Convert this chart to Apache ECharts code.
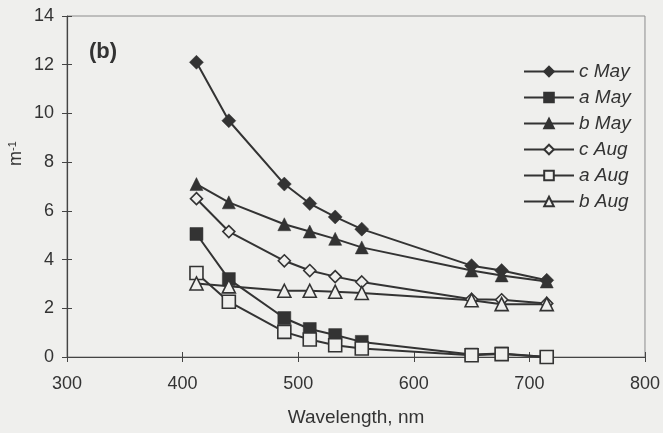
<!DOCTYPE html>
<html>
<head>
<meta charset="utf-8">
<script src="https://cdn.jsdelivr.net/npm/echarts@6/dist/echarts.min.js"></script>
<style>
  html, body { margin: 0; padding: 0; background: #efefed; }
  #chart { width: 663px; height: 433px; }
</style>
</head>
<body>
<div id="chart"></div>
<script>
// AC-9 wavelength channels (nm)
const wavelengths = [412, 440, 488, 510, 532, 555, 650, 676, 715];

// absorption-type coefficients, m^-1
const cMay = [12.1, 9.7, 7.1, 6.3, 5.75, 5.25, 3.75, 3.55, 3.15];
const aMay = [5.05, 3.2, 1.6, 1.15, 0.9, 0.62, 0.1, 0.14, 0.0];
const bMay = [7.1, 6.35, 5.45, 5.15, 4.85, 4.5, 3.55, 3.35, 3.1];
const cAug = [6.5, 5.15, 3.95, 3.55, 3.3, 3.08, 2.37, 2.35, 2.2];
const aAug = [3.45, 2.27, 1.03, 0.72, 0.48, 0.35, 0.07, 0.12, 0.0];
const bAug = [3.02, 2.9, 2.72, 2.72, 2.68, 2.63, 2.33, 2.17, 2.17];

const xTicks = [300, 400, 500, 600, 700, 800];
const yTicks = [0, 2, 4, 6, 8, 10, 12, 14];

const ink = '#333333';
const bg = '#efefed';
const font = 'Liberation Sans, Arial, sans-serif';

function pairs(vals) { return wavelengths.map((w, i) => [w, vals[i]]); }

function line(name, vals, symbol, filled, size) {
  return {
    name: name,
    type: 'line',
    data: pairs(vals),
    symbol: symbol,
    symbolSize: size,
    showAllSymbol: true,
    lineStyle: { color: ink, width: 2 },
    itemStyle: filled
      ? { color: ink, borderColor: ink, borderWidth: 0.5 }
      : { color: bg, borderColor: ink, borderWidth: 1.6 },
    emphasis: { disabled: true },
    animation: false
  };
}

const chart = echarts.init(document.getElementById('chart'), null, { renderer: 'canvas' });

chart.setOption({
  backgroundColor: bg,
  animation: false,
  grid: {
    left: 67, right: 18, top: 16, bottom: 76,
    show: true, borderColor: '#8c8c8c', borderWidth: 1, backgroundColor: 'transparent'
  },
  xAxis: [{
    type: 'value', min: xTicks[0], max: xTicks[xTicks.length - 1], interval: 100,
    name: 'Wavelength, nm', nameLocation: 'middle', nameGap: 51,
    nameTextStyle: { color: ink, fontSize: 19, fontFamily: font },
    axisLine: { show: true, lineStyle: { color: '#444', width: 1.2 } },
    axisTick: { show: true, length: 5, lineStyle: { color: '#444' } },
    axisLabel: { color: ink, fontSize: 18, fontFamily: font, margin: 18 },
    splitLine: { show: false }
  }, {
    // inner half of the crossing x ticks
    type: 'value', min: xTicks[0], max: xTicks[xTicks.length - 1], interval: 100,
    position: 'bottom', offset: 0,
    axisLine: { show: false },
    axisTick: { show: true, inside: true, length: 5, lineStyle: { color: '#444' } },
    axisLabel: { show: false },
    splitLine: { show: false }
  }],
  yAxis: [{
    type: 'value', min: yTicks[0], max: yTicks[yTicks.length - 1], interval: 2,
    axisLine: { show: true, lineStyle: { color: '#444', width: 1.2 } },
    axisTick: { show: true, length: 5, lineStyle: { color: '#444' } },
    axisLabel: { color: ink, fontSize: 18, fontFamily: font, margin: 13 },
    splitLine: { show: false }
  }, {
    // inner half of the crossing y ticks
    type: 'value', min: yTicks[0], max: yTicks[yTicks.length - 1], interval: 2,
    position: 'left', offset: 0,
    axisLine: { show: false },
    axisTick: { show: true, inside: true, length: 5, lineStyle: { color: '#444' } },
    axisLabel: { show: false },
    splitLine: { show: false }
  }],
  legend: {
    left: 523, top: 62, orient: 'vertical', padding: 0,
    itemWidth: 50, itemHeight: 12, itemGap: 7,
    textStyle: { color: ink, fontSize: 19, fontStyle: 'italic', fontFamily: font },
    data: ['c May', 'a May', 'b May', 'c Aug', 'a Aug', 'b Aug']
  },
  graphic: [{
    type: 'text', left: 89, top: 41,
    style: { text: '(b)', fill: ink, font: 'bold 22px ' + font }
  }, {
    type: 'text', x: 7, y: 166, rotation: Math.PI / 2,
    originX: 0, originY: 0,
    style: {
      text: 'm{s|-1}', fill: ink, font: '18px ' + font,
      rich: { s: { fontSize: 11, verticalAlign: 'top', fill: ink, padding: [0, 0, 8, 0] } }
    }
  }],
  series: [
    line('c May', cMay, 'diamond', true, 14),
    line('a May', aMay, 'rect', true, 13),
    line('b May', bMay, 'triangle', true, 13),
    line('c Aug', cAug, 'diamond', false, 12),
    line('a Aug', aAug, 'rect', false, 13),
    line('b Aug', bAug, 'triangle', false, 13)
  ]
});
</script>
</body>
</html>
